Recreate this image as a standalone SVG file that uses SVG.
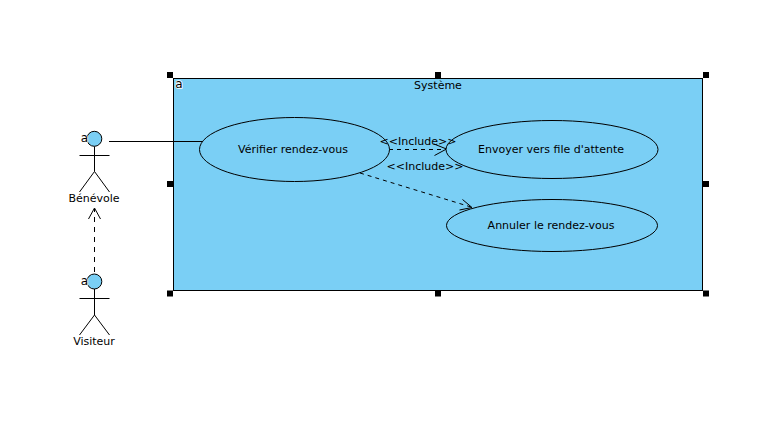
<svg xmlns="http://www.w3.org/2000/svg" width="771" height="445" viewBox="0 0 771 445">
<style>
text{font-family:"DejaVu Sans",sans-serif;font-size:11px;fill:#000;text-anchor:middle}
.a{font-size:12px;stroke:#fff;stroke-width:1.5px;paint-order:stroke}
.s{fill:none;stroke:#000;stroke-width:1}
.f{fill:#7ACFF5;stroke:#000;stroke-width:1}
.d{fill:none;stroke:#000;stroke-width:1;stroke-dasharray:4 4}
.h{fill:#000}
</style>
<rect width="771" height="445" fill="#fff"/>
<g id="system">
<rect class="f" x="173.500" y="78.500" width="529" height="212"/>
<text class="a" x="179" y="88">a</text>
<text x="438" y="89">Système</text>
<rect class="h" x="167" y="72" width="6" height="6"/><rect class="h" x="435" y="72" width="6" height="6"/><rect class="h" x="703" y="72" width="6" height="6"/>
<rect class="h" x="167" y="181" width="6" height="6"/><rect class="h" x="703" y="181" width="6" height="6"/>
<rect class="h" x="167" y="290.500" width="6" height="6"/><rect class="h" x="435" y="290.500" width="6" height="6"/><rect class="h" x="703" y="290.500" width="6" height="6"/>
</g>
<g id="connectors">
<path class="s" d="M109 141.500H203"/>
<path class="s" d="M94.500 272V209" stroke-dasharray="5 5"/>
<path class="s" d="M88.500 219L94.500 208L100.500 219"/>
<path class="d" d="M389 149.500H446"/>
<path class="s" d="M434.500 155.500L446.500 149L434 144"/>
<path class="d" d="M360 173L471 207"/>
<path class="s" d="M462.500 199.500L472 207.500L459.500 210"/>
</g>
<g id="uc1"><ellipse class="f" cx="294.500" cy="149.500" rx="95" ry="32"/><text x="293" y="153">Vérifier rendez-vous</text></g>
<g id="uc2"><ellipse class="f" cx="552" cy="149.500" rx="106" ry="29"/><text x="551" y="153">Envoyer vers file d'attente</text></g>
<g id="uc3"><ellipse class="f" cx="552" cy="225.500" rx="105.500" ry="26"/><text x="551" y="229">Annuler le rendez-vous</text></g>
<g id="labels"><text x="418" y="145">&lt;&lt;Include&gt;&gt;</text><text x="425" y="170">&lt;&lt;Include&gt;&gt;</text></g>
<g id="benevole">
<circle class="f" cx="94.300" cy="138.800" r="7.500"/>
<text class="a" x="84.500" y="142">a</text>
<path class="s" d="M94.500 146.500V171.500L79.500 192M94.500 171.500L109.500 192M79.500 155.500H109.500"/>
<text x="94" y="202">Bénévole</text>
</g>
<g id="visiteur">
<circle class="f" cx="94.300" cy="281.500" r="7.500"/>
<text class="a" x="84.500" y="285">a</text>
<path class="s" d="M94.500 289V315L79.500 335M94.500 315L109.500 335M79.500 298.500H109.500"/>
<text x="94" y="345">Visiteur</text>
</g>
</svg>
